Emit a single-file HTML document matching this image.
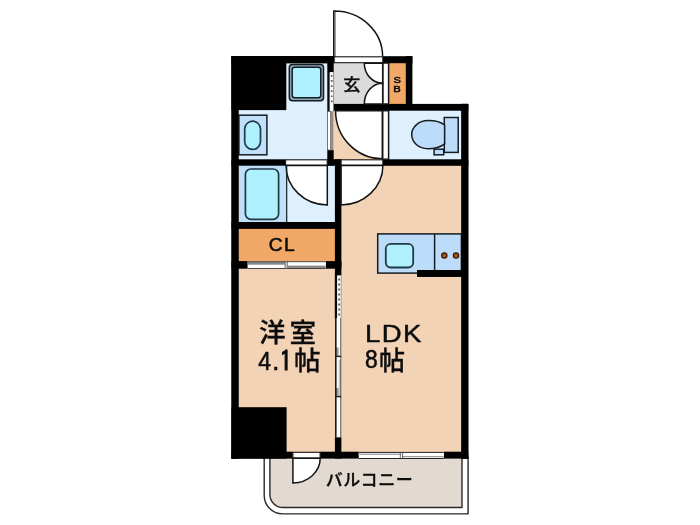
<!DOCTYPE html>
<html lang="ja">
<head>
<meta charset="utf-8">
<title>間取り図</title>
<style>
html,body{margin:0;padding:0;background:#fff;}
body{width:700px;height:525px;overflow:hidden;}
svg{display:block;will-change:transform;}
text{font-family:"Liberation Sans","Noto Sans CJK JP",sans-serif;fill:#0c0c0c;stroke:#0c0c0c;stroke-width:0.5px;stroke-linejoin:round;}
.cjk{font-weight:500;stroke-width:0.3px;}
</style>
</head>
<body>
<svg width="700" height="525" viewBox="0 0 700 525">
<rect x="0" y="0" width="700" height="525" fill="#ffffff"/>

<!-- ===== floors ===== -->
<g id="floors" stroke="none">
  <!-- washroom / laundry -->
  <rect x="286" y="62" width="42" height="50" fill="#def0fd"/>
  <rect x="238" y="109" width="90" height="51" fill="#def0fd"/>
  <!-- entrance -->
  <rect x="333.5" y="62" width="49.5" height="43" fill="#dbdbdc"/>
  <!-- SB -->
  <rect x="389" y="62" width="17.5" height="43" fill="#f1a866"/>
  <!-- hall -->
  <rect x="333.5" y="110" width="49.5" height="50" fill="#f3d3b6"/>
  <!-- toilet -->
  <rect x="388.8" y="110" width="73" height="50" fill="#def0fd"/>
  <!-- bath -->
  <rect x="238" y="165" width="48.7" height="58" fill="#bfdffa"/>
  <rect x="286.7" y="165" width="48.5" height="58" fill="#def0fd"/>
  <!-- CL -->
  <rect x="238" y="228" width="97" height="34" fill="#f1a866"/>
  <!-- bedroom -->
  <rect x="238" y="268" width="98" height="184" fill="#f3d3b6"/>
  <!-- LDK -->
  <rect x="341.2" y="165" width="121" height="287" fill="#f3d3b6"/>
</g>

<!-- ===== balcony ===== -->
<g id="balcony" stroke="#2a2a2a" stroke-width="1.4" stroke-linejoin="round">
  <path d="M264.2 457 V495.400 A18.5 18.5 0 0 0 282.700 513.900 H468.100 V457 Z" fill="#ffffff"/>
  <path d="M269.9 457 V494.500 A13 13 0 0 0 282.900 507.500 H462 V457 Z" fill="#e2d9d0"/>
</g>

<!-- ===== walls ===== -->
<g id="walls" fill="#000000" stroke="none">
  <rect x="231.5" y="56" width="102.5" height="7.4"/>
  <rect x="231.5" y="56" width="54.8" height="54.1"/>
  <rect x="327.3" y="56" width="6.4" height="16.3"/>
  <rect x="382.8" y="56.2" width="29.6" height="7"/>
  <rect x="405.8" y="56.2" width="6.6" height="50"/>
  <rect x="231.5" y="56" width="7" height="402.6"/>
  <rect x="461.4" y="103.9" width="6.9" height="354.7"/>
  <rect x="333.3" y="103.900" width="135" height="6.800"/>
  <rect x="382.7" y="159.3" width="85.6" height="6.5"/>
  <rect x="231.5" y="159.3" width="54" height="6.4"/>
  <rect x="327.3" y="150" width="6.4" height="15.6"/>
  <rect x="327.3" y="159.3" width="14" height="6.400"/>
  <rect x="334.9" y="159.3" width="6.5" height="116.3"/>
  <rect x="231.5" y="222" width="109" height="6.9"/>
  <rect x="231.5" y="261.1" width="16.3" height="7.6"/>
  <rect x="325.7" y="261.1" width="15.7" height="7.6"/>
  <rect x="231.5" y="407.2" width="55.1" height="51.4"/>
  <rect x="231.5" y="451.7" width="61.2" height="6.9"/>
  <rect x="320.1" y="451.7" width="38.7" height="6.9"/>
  <rect x="443.8" y="451.7" width="24.5" height="6.9"/>
  <rect x="334.9" y="437" width="6.5" height="21.6"/>
  <rect x="417" y="270" width="45" height="6.8"/>
</g>

<!-- ===== doors / windows ===== -->
<g id="openings" fill="#ffffff" stroke="#141414" stroke-width="1.5">
  <!-- entrance door -->
  <path d="M334.2 56.5 V11.1 A48.4 45.4 0 0 1 382.6 56.5 Z" stroke="none"/>
  <path d="M334.2 56.5 V11.1 A48.4 45.4 0 0 1 382.6 56.5" fill="none"/>
  <rect x="333.5" y="11.1" width="1.4" height="45.4" stroke-width="1"/>
  <rect x="334.2" y="56.8" width="48.6" height="5.9" stroke-width="1.1"/>
  <!-- partition strips -->
  <rect x="382.7" y="63" width="5.9" height="41" />
  <rect x="382.7" y="110.7" width="5.9" height="48.5" />
  <!-- shoe closet double doors -->
  <path d="M382.7 63.3 H364.3 A18.4 19.9 0 0 0 382.7 83.2 Z"/>
  <path d="M382.7 104 H364.3 A18.4 20.8 0 0 1 382.7 83.2 Z"/>
  <!-- hall door -->
  <path d="M382.3 110.7 H335.6 A46.7 48 0 0 0 382.3 158.7 Z"/>
  <!-- LDK door -->
  <rect x="341.1" y="159.8" width="41.7" height="5.4" stroke-width="1.1"/>
  <path d="M341.1 165.5 H382.9 A41.8 39.4 0 0 1 341.1 204.9 Z"/>
  <!-- bathroom door -->
  <rect x="285.6" y="159.8" width="41.6" height="5.4" stroke-width="1.1"/>
  <path d="M327.3 165.5 H286 A41.3 39.4 0 0 0 327.3 204.9 Z"/>
  <!-- balcony door -->
  <rect x="292.9" y="452.3" width="27.2" height="5.8" stroke-width="1.1"/>
  <path d="M292.9 458.3 H320.2 A27.3 24.6 0 0 1 292.9 482.9 Z"/>
</g>

<!-- folding door between washroom and hall -->
<g id="fold">
  <rect x="327.3" y="72" width="2.5" height="40.5" fill="#0a0a0a"/>
  <rect x="329.8" y="72.3" width="3.7" height="40" fill="#fbfbfb"/>
  <line x1="333.6" y1="72" x2="333.6" y2="112" stroke="#666" stroke-width="0.7"/>
  <line x1="331.7" y1="75" x2="331.7" y2="104" stroke="#555" stroke-width="1.6" stroke-dasharray="1.7 3.4"/>
  <rect x="327.5" y="111.5" width="3" height="38.5" fill="#fff" stroke="#666" stroke-width="0.9"/>
  <rect x="330.5" y="111.2" width="3" height="39" fill="#8f8f8f"/>
</g>

<!-- closet sliding door -->
<g id="closetdoor">
  <rect x="247.7" y="261.3" width="78" height="7.4" fill="#ffffff"/>
  <rect x="247.9" y="262" width="37.6" height="2.7" fill="#8a8a8a"/>
  <rect x="287.6" y="265.6" width="38" height="2.7" fill="#8a8a8a"/>
  <rect x="284.6" y="262" width="3.2" height="6.4" fill="#777"/>
  <line x1="247.7" y1="261.7" x2="325.7" y2="261.7" stroke="#333" stroke-width="0.9"/>
  <line x1="247.7" y1="268.5" x2="325.7" y2="268.5" stroke="#333" stroke-width="0.9"/>
  <line x1="286.2" y1="262" x2="286.2" y2="268.4" stroke="#fff" stroke-width="0.8"/>
</g>

<!-- bedroom/LDK sliding door -->
<g id="slide">
  <rect x="334.8" y="275" width="2.5" height="43.5" fill="#0a0a0a"/>
  <rect x="337.3" y="275.6" width="4" height="42.6" fill="#fafafa"/>
  <line x1="341.2" y1="275.6" x2="341.2" y2="318" stroke="#777" stroke-width="0.7"/>
  <line x1="339.2" y1="278.6" x2="339.2" y2="316" stroke="#555" stroke-width="1.8" stroke-dasharray="1.8 3.2"/>
  <rect x="335.2" y="318" width="6.1" height="119.3" fill="#fdfdfd"/>
  <rect x="338.6" y="360" width="2.4" height="36" fill="#c9c9c9"/>
  <rect x="336" y="347.5" width="2.6" height="8.5" fill="#9a9a9a"/>
  <rect x="336" y="388" width="2.6" height="8" fill="#9a9a9a"/>
  <line x1="335.8" y1="318" x2="335.8" y2="437.3" stroke="#1a1a1a" stroke-width="1.6"/>
  <line x1="340.8" y1="318" x2="340.8" y2="437.3" stroke="#555" stroke-width="1.1"/>
  <line x1="335.2" y1="356.4" x2="341.3" y2="356.4" stroke="#222" stroke-width="1.4"/>
  <line x1="335.2" y1="396.6" x2="341.3" y2="396.6" stroke="#222" stroke-width="1.4"/>
</g>

<!-- balcony window -->
<g id="window">
  <rect x="358.8" y="452" width="85" height="6.8" fill="#ffffff"/>
  <line x1="358.8" y1="452.4" x2="443.8" y2="452.4" stroke="#222" stroke-width="1"/>
  <line x1="358.8" y1="458.5" x2="443.8" y2="458.5" stroke="#222" stroke-width="1"/>
  <line x1="359.3" y1="454.2" x2="401" y2="454.2" stroke="#666" stroke-width="0.8"/>
  <line x1="402" y1="456.7" x2="443.6" y2="456.7" stroke="#666" stroke-width="0.8"/>
  <line x1="400.3" y1="452.4" x2="400.3" y2="458.5" stroke="#444" stroke-width="0.8"/>
  <line x1="402.6" y1="452.4" x2="402.6" y2="458.5" stroke="#444" stroke-width="0.8"/>
</g>

<!-- ===== fixtures ===== -->
<g id="fixtures" stroke="#151c22" stroke-width="1.5">
  <!-- washer -->
  <rect x="289.3" y="64.4" width="34.2" height="36.4" rx="3.2" fill="#8ea7b9"/>
  <rect x="292.2" y="67.3" width="28.6" height="30.4" rx="2.4" fill="#aff0fe"/>
  <!-- wash basin -->
  <rect x="238.9" y="115.2" width="28" height="39.6" fill="#bfdffa"/>
  <rect x="244.7" y="121.2" width="15.8" height="28.2" rx="7.9" fill="#aff0fe" stroke="#1f3a46" stroke-width="1.7"/>
  <!-- bathtub -->
  <rect x="245.4" y="169" width="33.2" height="50.3" rx="5.5" fill="#aff0fe" stroke="#1f3a46" stroke-width="1.7"/>
  <line x1="286.7" y1="165.6" x2="286.7" y2="222" stroke-width="1.2"/>
  <!-- toilet -->
  <rect x="444.3" y="117.5" width="13.9" height="34.9" fill="#bcdcfa"/>
  <path d="M444.6 125 C440 121.500 434 120.500 428 120.600 C418.500 120.800 411.700 127 411.700 134.600 C411.700 142.200 418.500 148.700 428 148.700 C434 148.700 440 147.500 444.600 143.800 Z" fill="#bcdcfa"/>
  <rect x="434.1" y="149.2" width="9.6" height="5.6" fill="#bcdcfa"/>
  <!-- kitchen -->
  <rect x="377.7" y="233.9" width="83.7" height="39.2" fill="#bcdcfa"/>
  <line x1="434.6" y1="233.900" x2="434.6" y2="273.100"/>
  <rect x="385.8" y="243.9" width="27.4" height="23.6" rx="5" fill="#aff0fe" stroke="#1f3a46" stroke-width="1.8"/>
  <circle cx="444.3" cy="255.6" r="2.6" fill="#ab5818" stroke="#3d1e08" stroke-width="1.3"/>
  <circle cx="456" cy="255.6" r="2.6" fill="#ab5818" stroke="#3d1e08" stroke-width="1.3"/>
</g>
<g fill="#000">
  <rect x="417" y="270" width="45" height="6.8"/>
  <rect x="461.4" y="103.9" width="6.9" height="354.7"/>
  <rect x="231.5" y="56" width="7" height="402.6"/>
</g>

<!-- ===== labels ===== -->
<g id="labels">
  <text id="t_gen" class="cjk" x="343.3" y="90.8" font-size="17.2">玄</text>
  <text id="t_sb" transform="translate(393.6 82.5) scale(1.27 1)" font-size="8.8"><tspan x="0" y="0">S</tspan><tspan x="-0.2" y="9.6">B</tspan></text>
  <text id="t_cl" transform="translate(268.8 251.2) scale(1.1 1)" font-size="17.5" letter-spacing="1.3">CL</text>
  <text id="t_you" class="cjk" x="259" y="341.5" font-size="26.6" letter-spacing="4">洋室</text>
  <text id="t_41" x="258.3" y="369.6" font-size="26.3"><tspan textLength="12.8" lengthAdjust="spacingAndGlyphs" stroke-width="0.6">4</tspan><tspan x="272.1" font-size="27" stroke-width="0.5">.</tspan><tspan font-family="IPAGothic,'Liberation Sans',sans-serif" font-size="26.6" stroke-width="1" x="279.4" y="370.7" textLength="12.5" lengthAdjust="spacingAndGlyphs">1</tspan><tspan class="cjk" font-size="26.6" x="294.1" y="370.4">帖</tspan></text>
  <text id="t_ldk" transform="translate(365 341.600) scale(1.11 1)" font-size="24.8" letter-spacing="1.3">LDK</text>
  <text id="t_8" x="365.1" y="368.2" font-size="25"><tspan textLength="12.7" lengthAdjust="spacingAndGlyphs" stroke-width="0.6">8</tspan><tspan class="cjk" font-size="26" x="378.9" dy="2">帖</tspan></text>
  <text id="t_bal" class="cjk" x="325.7" y="485.6" font-size="17" letter-spacing="0.6">バルコニー</text>
</g>
</svg>
</body>
</html>
